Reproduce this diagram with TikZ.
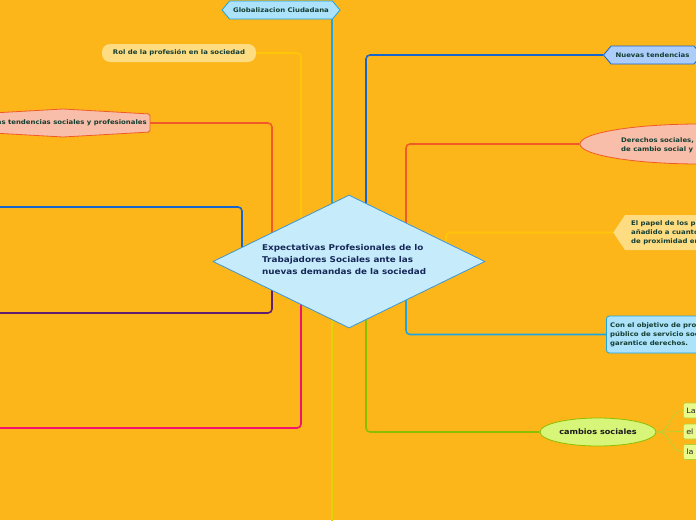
\documentclass[tikz,border=0pt]{standalone}
\usepackage{fontspec}
\setmainfont{DejaVu Sans}[FakeStretch=1.1]
\usetikzlibrary{shapes.geometric,shapes.symbols,calc}
\pgfdeclarelayer{back}
\pgfdeclarelayer{lines}
\pgfsetlayers{back,lines,main}
\definecolor{bg}{RGB}{253,182,26}
\definecolor{diamfill}{RGB}{198,236,251}
\definecolor{diamline}{RGB}{60,150,210}
\definecolor{navy}{RGB}{22,40,88}
\definecolor{dgreen}{RGB}{20,62,50}
\definecolor{cyanl}{RGB}{30,165,225}
\definecolor{bluel}{RGB}{22,100,205}
\definecolor{yell}{RGB}{255,198,10}
\definecolor{redl}{RGB}{240,90,40}
\definecolor{purpl}{RGB}{95,30,110}
\definecolor{magl}{RGB}{240,20,110}
\definecolor{greenl}{RGB}{140,190,0}
\definecolor{yelgl}{RGB}{225,210,10}
\definecolor{pinkf}{RGB}{248,190,170}
\definecolor{creamf}{RGB}{254,220,130}
\definecolor{lbluef}{RGB}{172,204,250}
\definecolor{skyf}{RGB}{172,226,250}
\definecolor{limef}{RGB}{215,245,120}
\definecolor{limec}{RGB}{232,250,140}
\definecolor{limeb}{RGB}{180,210,50}
\tikzset{
  conn/.style={line width=1.6, rounded corners=4},
  small/.style={font=\bfseries\fontsize{6.3}{9}\selectfont, text=dgreen},
  child/.style={draw=limeb, fill=limec, rounded corners=2, line width=0.6,
    text width=24, minimum height=15, inner xsep=3, inner ysep=0, align=left,
    font=\fontsize{7.3}{8}\selectfont, text=black!85},
}
\begin{document}
\begin{tikzpicture}[x=1pt,y=-1pt]
\useasboundingbox (0,0) rectangle (696,520);
\begin{pgfonlayer}{back}
\fill[bg] (0,0) rectangle (696,520);
\end{pgfonlayer}
\clip (0,0) rectangle (696,520);

% central diamond
\node[diamond, draw=diamline, fill=diamfill, line width=0.8, inner sep=0,
  minimum width=272, minimum height=133] (c) at (349,261.5) {};
\node[anchor=west, align=left, inner sep=0, text=navy,
  font=\bfseries\fontsize{8}{12}\selectfont] (ct) at (262,260)
  {Expectativas Profesionales de lo\\Trabajadores Sociales ante las\\nuevas demandas de la sociedad};

% top
\node[signal, signal to=west and east, signal pointer angle=100, draw=cyanl, fill=skyf,
  line width=0.8, minimum width=118, minimum height=18, inner sep=1, small] (glob) at (281,10)
  {Globalizacion Ciudadana};

% Rol
\node[draw=none, fill=creamf, rounded corners=8, minimum width=154, minimum height=18,
  inner sep=0, small] (rol) at (179,53) {Rol de la profesión en la sociedad};

% Las tendencias (left)
\draw[redl, fill=pinkf, line width=0.8, rounded corners=1.5]
  (150,114) -- (150,132) -- (63,137) -- (-25,132) -- (-25,114) -- (63,109) -- cycle;
\node[anchor=east, inner sep=0, small] (lt) at (147,122.5) {Las tendencias sociales y profesionales};
\coordinate (ltend) at (150,123);

% off-canvas left branches
\coordinate (lblue) at (-20,207);
\coordinate (lpurp) at (-20,313);
\coordinate (lmag) at (-20,428);
\coordinate (ybot) at (332,530);

% Nuevas tendencias
\node[signal, signal to=west and east, signal pointer angle=100, draw=bluel, fill=lbluef,
  line width=0.8, minimum width=98, minimum height=18, inner sep=1, small,
  anchor=west] (nt) at (603,55) {Nuevas tendencias\hspace{4pt}};

% Derechos sociales
\node[ellipse, draw=redl, fill=pinkf, line width=0.8, minimum width=240, minimum height=40,
  inner sep=0] (der) at (700,144) {};
\node[anchor=west, align=left, inner sep=0, small] (dert) at (621,145)
  {Derechos sociales,\\de cambio social y};

% El papel
\node[signal, signal to=west, signal pointer angle=112, draw=none, fill=creamf,
  minimum width=100, minimum height=35, inner sep=0, anchor=west] (pap) at (613,232.5) {};
\node[anchor=west, align=left, inner sep=0, small] (papt) at (631,233)
  {El papel de los p\\añadido a cuanto\\de proximidad en};

% Con el objetivo
\node[draw=cyanl, fill=skyf, rounded corners=3, line width=0.8, minimum width=100,
  minimum height=37, inner sep=0, anchor=west] (con) at (606,334.5) {};
\node[anchor=west, align=left, inner sep=0, small] (cont) at (610,335)
  {Con el objetivo de pro\\público de servicio soc\\garantice derechos.};

% cambios sociales
\node[ellipse, draw=greenl, fill=limef, line width=0.8, minimum width=116, minimum height=28,
  inner sep=0, font=\bfseries\fontsize{7.4}{8}\selectfont, text=black!90] (cs) at (598,432)
  {cambios sociales};
\node[child, anchor=west] (k1) at (683,410.5) {La};
\node[child, anchor=west] (k2) at (683,431.5) {el};
\node[child, anchor=west] (k3) at (683,452) {la};

\begin{pgfonlayer}{lines}
\draw[conn, cyanl] ([xshift=-17]c.center) -- ([xshift=-17]c.center |- glob.south);
\draw[conn, yelgl] ([xshift=-17]c.center) -- (ybot);
\draw[conn, yell] (rol.east) -| ([xshift=-48]c.center);
\draw[conn, magl] (lmag) -| ([xshift=-48]c.center);
\draw[conn, redl] (ltend) -| ([xshift=-77]c.center);
\draw[conn, purpl] (lpurp) -| ([xshift=-77]c.center);
\draw[conn, bluel] (lblue) -| ([xshift=-107]c.center);
\draw[conn, bluel] ([xshift=17]c.center) |- (nt.west);
\draw[conn, greenl] ([xshift=17]c.center) |- (cs.west);
\draw[conn, redl] ([xshift=57]c.center) |- (der.west);
\draw[conn, cyanl] ([xshift=57]c.center) |- (con.west);
\draw[conn, yell] ([xshift=97]c.center) |- (pap.west);
\foreach \k in {k1,k2,k3}
  \draw[limeb, line width=0.7] (cs.east) .. controls +(16,0) and +(-14,0) .. (\k.west);
\end{pgfonlayer}
\end{tikzpicture}
\end{document}
